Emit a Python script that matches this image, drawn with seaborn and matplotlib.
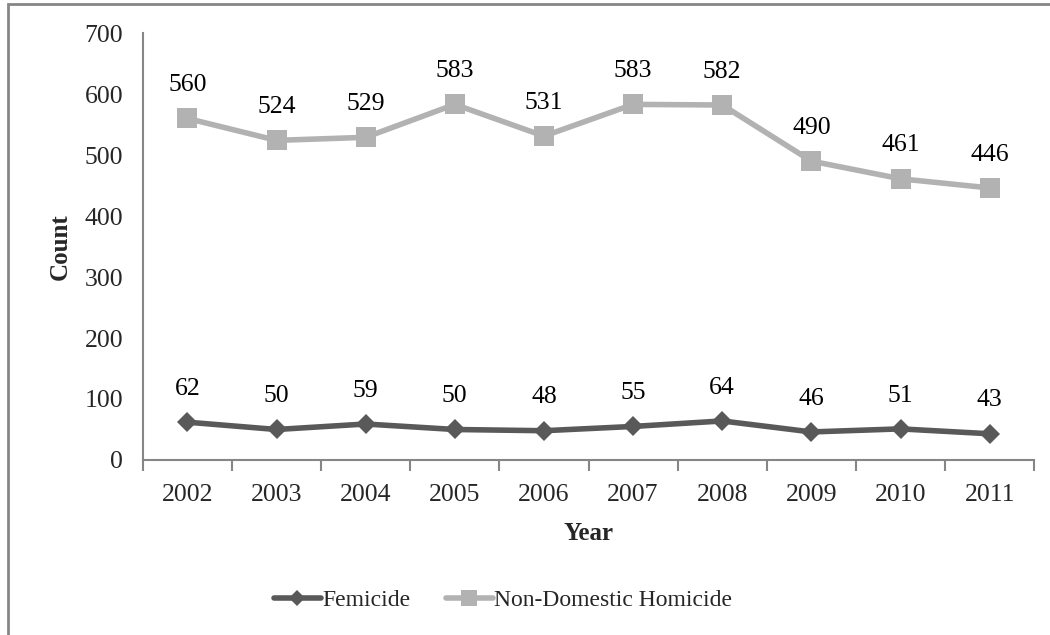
import pandas as pd
import seaborn as sns
import matplotlib.pyplot as plt
from matplotlib.patches import Rectangle
from matplotlib.lines import Line2D

years = ['2002', '2003', '2004', '2005', '2006', '2007', '2008', '2009', '2010', '2011']
femicide = [62, 50, 59, 50, 48, 55, 64, 46, 51, 43]
non_domestic = [560, 524, 529, 583, 531, 583, 582, 490, 461, 446]

df = pd.DataFrame({
    'Year': years * 2,
    'Count': femicide + non_domestic,
    'Series': ['Femicide'] * len(years) + ['Non-Domestic Homicide'] * len(years),
})

sns.set_style('white')
plt.rcParams['font.family'] = ['Liberation Serif', 'DejaVu Serif']

fig = plt.figure(figsize=(10.5, 6.35), dpi=100)
ax = fig.add_axes([0.136, 0.2756, 0.849, 0.6724])

colors = {'Femicide': '#595959', 'Non-Domestic Homicide': '#b2b2b2'}
sns.lineplot(data=df, x='Year', y='Count', hue='Series', style='Series',
             markers={'Femicide': 'D', 'Non-Domestic Homicide': 's'},
             dashes=False, palette=colors, linewidth=4, markersize=14,
             markeredgewidth=0, ax=ax, sort=False, legend=False)

# diamonds drawn a bit smaller than the squares
for line in ax.lines:
    if line.get_marker() == 'D':
        line.set_markersize(10.5)

# data labels
for vals in (femicide, non_domestic):
    for i, v in enumerate(vals):
        ax.annotate(str(v), (i, v), xytext=(0, 24), textcoords='offset points',
                    ha='center', va='center', fontsize=18.5, color='black')

ax.set_xlim(-0.5, len(years) - 0.5)
ax.set_ylim(0, 700)
ax.set_yticks(range(0, 701, 100))
ax.set_xticks(range(len(years)))
ax.set_xticklabels(years)
ax.set_xticks([i - 0.5 for i in range(len(years) + 1)], minor=True)
ax.tick_params(axis='x', which='major', length=0, pad=17, labelsize=18.5)
ax.tick_params(axis='x', which='minor', length=8, width=1.5, color='#868686',
               direction='out', bottom=True)
ax.tick_params(axis='y', length=8, width=1.5, color='#868686', direction='out',
               pad=6, labelsize=18.5)

for side in ('top', 'right'):
    ax.spines[side].set_visible(False)
for side in ('left', 'bottom'):
    ax.spines[side].set_color('#868686')
    ax.spines[side].set_linewidth(1.5)

ax.set_xlabel('Year', fontsize=18, fontweight='bold', labelpad=12)
ax.set_ylabel('Count', fontsize=18, fontweight='bold', labelpad=9)

handles = [
    Line2D([], [], color=colors['Femicide'], linewidth=4, marker='D', markersize=8, markeredgewidth=0),
    Line2D([], [], color=colors['Non-Domestic Homicide'], linewidth=4, marker='s', markersize=12, markeredgewidth=0),
]
ax.legend(handles, ['Femicide', 'Non-Domestic Homicide'], loc='center',
          bbox_to_anchor=(0.479, 0.055), bbox_transform=fig.transFigure,
          ncol=2, frameon=False, fontsize=17, handlelength=2.0,
          handletextpad=0.05, columnspacing=1.5)

# chart border (only top/left visible in the crop)
fig.patches.append(Rectangle((8 / 1050, -0.1), 1.2, 1 - 4 / 635 + 0.1,
                             transform=fig.transFigure, fill=False,
                             edgecolor='#868686', linewidth=2))

plt.savefig('out.png', dpi=100)
